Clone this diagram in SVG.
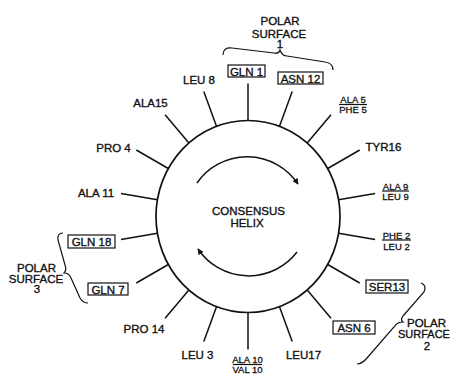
<svg xmlns="http://www.w3.org/2000/svg" width="451" height="374" viewBox="0 0 451 374">
<defs>
<marker id="ah" viewBox="0 0 10 10" refX="9" refY="5" markerWidth="10" markerHeight="6" markerUnits="userSpaceOnUse" orient="auto">
<path d="M0,0 L10,5 L0,10 z" fill="#111"/>
</marker>
<style>
.t{font-family:"Liberation Sans",Arial,sans-serif;font-size:11.5px;fill:#111;stroke:#111;stroke-width:0.35;text-anchor:middle}
.s{font-family:"Liberation Sans",Arial,sans-serif;font-size:9.5px;fill:#111;stroke:#111;stroke-width:0.3;text-anchor:middle}
.ln{stroke:#111;stroke-width:1.5;fill:none}
.bx{stroke:#111;stroke-width:1.2;fill:none}
.br{stroke:#111;stroke-width:1.2;fill:none}
</style>
</defs>
<rect width="451" height="374" fill="#fff"/>
<g id="helix">
<ellipse cx="248" cy="216.5" rx="92" ry="96" class="ln" style="stroke-width:1.7"/>
<text class="t" x="248.5" y="215">CONSENSUS</text>
<text class="t" x="247" y="227">HELIX</text>
</g>
<g id="connectors">
<path class="ln" d="M248,120.5 L248,83.5"/>
<path class="ln" d="M279.5,126.3 L292.2,91.5"/>
<path class="ln" d="M307.2,143 L331,114.7"/>
<path class="ln" d="M327.7,168.5 L359.7,150"/>
<path class="ln" d="M338.6,199.8 L375.1,193.4"/>
<path class="ln" d="M338.6,233.2 L375.1,239.6"/>
<path class="ln" d="M327.7,264.5 L359.7,283"/>
<path class="ln" d="M307.2,290 L331,318.3"/>
<path class="ln" d="M279.5,306.7 L292.2,341.5"/>
<path class="ln" d="M248,312.5 L248,349.5"/>
<path class="ln" d="M216.5,306.7 L203.8,341.5"/>
<path class="ln" d="M188.9,290 L165.1,318.3"/>
<path class="ln" d="M168.3,264.5 L136.3,283"/>
<path class="ln" d="M157.4,233.2 L121,239.6"/>
<path class="ln" d="M157.4,199.8 L121,193.4"/>
<path class="ln" d="M168.3,168.5 L136.3,150"/>
<path class="ln" d="M188.9,143 L165.1,114.7"/>
<path class="ln" d="M216.5,126.3 L203.8,91.5"/>
<path class="ln" d="M197,183 A61,61 0 0 1 298,184" marker-end="url(#ah)"/>
<path class="ln" d="M297,252 A61,61 0 0 1 198,249" marker-end="url(#ah)"/>
</g>
<g id="gln1"><rect class="bx" x="228" y="65" width="37" height="12"/><text class="t" x="246.5" y="75.5">GLN 1</text></g>
<g id="asn12"><rect class="bx" x="278" y="72" width="45" height="12"/><text class="t" x="300.5" y="82.5">ASN 12</text></g>
<g id="ala5"><text class="s" x="353" y="103">ALA 5</text><path class="bx" d="M339,104.5 H367"/><text class="s" x="353" y="113">PHE 5</text></g>
<g id="tyr16"><text class="t" x="383.5" y="151">TYR16</text></g>
<g id="ala9"><text class="s" x="395.5" y="189.5">ALA 9</text><path class="bx" d="M382,191 H409"/><text class="s" x="395.5" y="200">LEU 9</text></g>
<g id="phe2"><text class="s" x="396.5" y="238.5">PHE 2</text><path class="bx" d="M382,240 H411"/><text class="s" x="396.5" y="250">LEU 2</text></g>
<g id="ser13"><rect class="bx" x="366" y="280" width="42" height="13"/><text class="t" x="387" y="291">SER13</text></g>
<g id="asn6"><rect class="bx" x="333" y="321" width="42" height="13"/><text class="t" x="354" y="332">ASN 6</text></g>
<g id="leu17"><text class="t" x="303.5" y="359">LEU17</text></g>
<g id="ala10"><text class="s" x="247.5" y="363">ALA 10</text><path class="bx" d="M233,364.5 H262"/><text class="s" x="247.5" y="373">VAL 10</text></g>
<g id="leu3"><text class="t" x="197.5" y="359">LEU 3</text></g>
<g id="pro14"><text class="t" x="144" y="333">PRO 14</text></g>
<g id="gln7"><rect class="bx" x="88" y="283" width="40" height="12"/><text class="t" x="108" y="293.5">GLN 7</text></g>
<g id="gln18"><rect class="bx" x="68" y="235" width="47" height="13"/><text class="t" x="91.5" y="246">GLN 18</text></g>
<g id="ala11"><text class="t" x="96" y="197">ALA 11</text></g>
<g id="pro4"><text class="t" x="113.5" y="152">PRO 4</text></g>
<g id="ala15"><text class="t" x="150.5" y="107">ALA15</text></g>
<g id="leu8"><text class="t" x="199" y="84">LEU 8</text></g>
<g id="polar1">
<text class="t" x="280" y="25">POLAR</text><text class="t" x="279" y="37.5">SURFACE</text><text class="t" x="280" y="48">1</text>
<path class="br" d="M223,55 Q223,47 232,48 L274,53 Q279,54 280,50 Q282,56 287,56 L325,62 Q333,63 333,70"/>
</g>
<g id="polar2">
<text class="t" x="426.5" y="327">POLAR</text><text class="t" x="398" y="338" style="text-anchor:start;font-size:11px">SURFACE</text><text class="t" x="427" y="350">2</text>
<path class="br" d="M421,283 Q427,285 424,292 L403,316 Q400,320 403,322 Q397,322 394,327 L367,358 Q362,364 357,364"/>
</g>
<g id="polar3">
<text class="t" x="36.5" y="272">POLAR</text><text class="t" x="36" y="282.5">SURFACE</text><text class="t" x="37" y="293">3</text>
<path class="br" d="M63,233 Q57,233 58,240 L65,265 Q67,270 64,273 Q69,273 71,278 L80,298 Q83,303 88,303"/>
</g>
</svg>
